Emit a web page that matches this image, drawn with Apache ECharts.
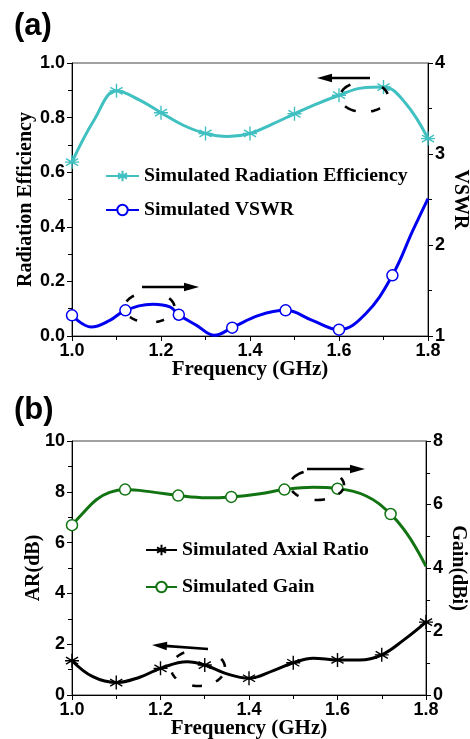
<!DOCTYPE html>
<html><head><meta charset="utf-8">
<script src="https://cdn.jsdelivr.net/npm/echarts@6/dist/echarts.min.js"></script>
<style>html,body{margin:0;padding:0;background:#fff}#c{width:470px;height:739px}</style>
</head><body><div id="c"></div>
<script>
// ---------- Panel (a) ----------
const effFreq  = [1.00,1.05,1.10,1.15,1.20,1.25,1.30,1.35,1.40,1.45,1.50,1.55,1.60,1.65,1.70,1.75,1.80];
const effValue = [0.637,0.792,0.898,0.866,0.818,0.772,0.742,0.731,0.742,0.776,0.814,0.850,0.882,0.908,0.912,0.852,0.723];
const effMarkerFreq = [1.0,1.1,1.2,1.3,1.4,1.5,1.6,1.7,1.8];
const vswrFreq  = [1.00,1.043,1.085,1.12,1.182,1.22,1.24,1.28,1.32,1.36,1.42,1.48,1.54,1.60,1.66,1.72,1.766,1.80];
const vswrValue = [1.227,1.099,1.172,1.282,1.348,1.319,1.234,1.117,1.007,1.092,1.227,1.282,1.172,1.070,1.245,1.667,2.16,2.51];
const vswrMarkerFreq = [1.0,1.12,1.24,1.36,1.48,1.6,1.72];
// ---------- Panel (b) ----------
const arFreq  = [1.00,1.047,1.10,1.153,1.20,1.26,1.30,1.35,1.40,1.455,1.50,1.545,1.60,1.65,1.70,1.75,1.80];
const arValue = [1.35,0.72,0.49,0.70,1.05,1.31,1.18,0.83,0.66,0.96,1.27,1.45,1.38,1.38,1.58,2.17,2.87];
const arMarkerFreq = [1.0,1.1,1.2,1.3,1.4,1.5,1.6,1.7,1.8];
const gainFreq  = [1.00,1.025,1.055,1.085,1.12,1.183,1.24,1.304,1.36,1.425,1.48,1.545,1.60,1.666,1.72,1.756,1.78,1.80];
const gainValue = [5.35,5.73,6.15,6.38,6.47,6.39,6.28,6.21,6.24,6.34,6.47,6.54,6.50,6.26,5.70,5.10,4.57,4.05];
const gainMarkerFreq = [1.0,1.12,1.24,1.36,1.48,1.6,1.72];

const names = {
  eff: 'Simulated Radiation Efficiency', vswr: 'Simulated VSWR',
  ar: 'Simulated Axial Ratio', gain: 'Simulated Gain'
};

const SERIF = "'Liberation Serif','Times New Roman',serif";
const SANS = "'Liberation Sans',Arial,sans-serif";
const STAR = 'path://M0,-10L0,10M-8.66,-5L8.66,5M-8.66,5L8.66,-5M-10,0L10,0';

function build(freqs, vals, markers) {
  return freqs.map((f, i) => {
    const on = markers.some(m => Math.abs(m - f) < 1e-6);
    return on ? [f, vals[i]] : { value: [f, vals[i]], symbol: 'none' };
  });
}

const chart = echarts.init(document.getElementById('c'), null, { renderer: 'canvas' });

function xAx(grid) {
  return {
    type: 'value', gridIndex: grid, min: 1.0, max: 1.8, interval: 0.2,
    name: 'Frequency (GHz)', nameLocation: 'middle', nameGap: 23, nameMoveOverlap: false,
    nameTextStyle: { fontFamily: SERIF, fontWeight: 'bold', fontSize: 21, color: '#000' },
    axisLine: { lineStyle: { color: '#000', width: 1 } },
    axisTick: { inside: false, length: 5, lineStyle: { color: '#000' } },
    minorTick: { show: true, splitNumber: 2, length: 4, lineStyle: { color: '#000' } },
    splitLine: { show: false },
    axisLabel: { fontFamily: SANS, fontWeight: 'bold', fontSize: 18, color: '#000', margin: 6,
      formatter: v => v.toFixed(1) }
  };
}
function yAx(grid, pos, min, max, interval, name, gap, rot, fmt) {
  return {
    type: 'value', gridIndex: grid, position: pos, min, max, interval,
    name, nameLocation: 'middle', nameGap: gap, nameRotate: rot, nameMoveOverlap: false,
    nameTextStyle: { fontFamily: SERIF, fontWeight: 'bold', fontSize: 20, color: '#000' },
    axisLine: { show: true, onZero: false, lineStyle: { color: '#000', width: 1 } },
    axisTick: { show: true, inside: false, length: 5, lineStyle: { color: '#000' } },
    minorTick: { show: true, splitNumber: 2, length: 4, lineStyle: { color: '#000' } },
    splitLine: { show: false },
    axisLabel: { fontFamily: SANS, fontWeight: 'bold', fontSize: 18, color: '#000', margin: 7, formatter: fmt }
  };
}

const CYAN = '#40C0C0', BLUE = '#0000F0', GREEN = '#127312', BLACK = '#000';

function lineSeries(name, xi, yi, data, color, symbol, size, fill, bw) {
  return {
    name, type: 'line', xAxisIndex: xi, yAxisIndex: yi, data,
    smooth: 0.4, symbol, symbolSize: size, showSymbol: true,
    lineStyle: { color, width: 3 },
    itemStyle: { color: fill, borderColor: color, borderWidth: bw },
    emphasis: { disabled: true }, z: 3
  };
}

// dashed, hand-drawn style ellipses: each dash is a short arc of the ellipse (angles in degrees, screen coords)
function dashedEllipse(cx, cy, rx, ry, ranges) {
  return ranges.map(([a0, a1]) => {
    const mid = (a0 + a1) / 2, half = (a1 - a0) / 2 * 0.8;
    const pts = [];
    const n = 10;
    for (let k = 0; k <= n; k++) {
      const t = (mid - half + 2 * half * k / n) * Math.PI / 180;
      pts.push([cx + rx * Math.cos(t), cy + ry * Math.sin(t)]);
    }
    return { type: 'polyline', shape: { points: pts }, style: { stroke: '#000', lineWidth: 2.6, fill: 'none', lineCap: 'butt' }, z: 10, silent: true };
  });
}
function arrow(x1, y1, x2, y2) {
  const dx = x2 - x1, dy = y2 - y1, L = Math.hypot(dx, dy), ux = dx / L, uy = dy / L;
  const hl = 15, hw = 4.3;
  const bx = x2 - ux * hl, by = y2 - uy * hl;
  return [
    { type: 'polyline', shape: { points: [[x1, y1], [bx + ux * 2, by + uy * 2]] }, style: { stroke: '#000', lineWidth: 2.7, fill: 'none' }, z: 10, silent: true },
    { type: 'polygon', shape: { points: [[x2, y2], [bx - uy * hw, by + ux * hw], [bx + uy * hw, by - ux * hw]] }, style: { fill: '#000' }, z: 10, silent: true }
  ];
}

const option = {
  animation: false,
  backgroundColor: '#fff',
  grid: [
    { left: 72, right: 42, top: 63, height: 273, show: true, borderColor: '#444', borderWidth: 1, containLabel: false, outerBoundsMode: 'none' },
    { left: 72, right: 44, top: 441, height: 254, show: true, borderColor: '#444', borderWidth: 1, containLabel: false, outerBoundsMode: 'none' }
  ],
  xAxis: [xAx(0), xAx(1)],
  yAxis: [
    yAx(0, 'left', 0, 1, 0.2, 'Radiation Efficiency', 36, 90, v => v.toFixed(1)),
    yAx(0, 'right', 1, 4, 1, 'VSWR', 22, -90, v => String(v)),
    yAx(1, 'left', 0, 10, 2, 'AR(dB)', 28, 90, v => String(v)),
    yAx(1, 'right', 0, 8, 2, 'Gain(dBi)', 22, -90, v => String(v))
  ],
  legend: [
    { data: [names.eff, names.vswr], orient: 'vertical', left: 105, top: 166, itemGap: 14, padding: 0,
      itemWidth: 33, itemHeight: 13, selectedMode: false,
      textStyle: { fontFamily: SERIF, fontWeight: 'bold', fontSize: 19.8, color: '#000', lineHeight: 20 } },
    { data: [names.ar, names.gain], orient: 'vertical', left: 145, top: 540, itemGap: 17, padding: 0,
      itemWidth: 31, itemHeight: 13, selectedMode: false,
      textStyle: { fontFamily: SERIF, fontWeight: 'bold', fontSize: 19.8, color: '#000', lineHeight: 20 } }
  ],
  series: [
    lineSeries(names.eff, 0, 0, build(effFreq, effValue, effMarkerFreq), CYAN, STAR, 14, 'none', 1.4),
    lineSeries(names.vswr, 0, 1, build(vswrFreq, vswrValue, vswrMarkerFreq), BLUE, 'circle', 11, '#fff', 1.5),
    lineSeries(names.ar, 1, 2, build(arFreq, arValue, arMarkerFreq), BLACK, STAR, 14, 'none', 1.4),
    lineSeries(names.gain, 1, 3, build(gainFreq, gainValue, gainMarkerFreq), GREEN, 'circle', 11, '#fff', 1.5)
  ],
  graphic: [
    { type: 'text', left: 14, top: 11, style: { text: '(a)', fontFamily: SANS, fontWeight: 'bold', fontSize: 31, fill: '#000' } },
    { type: 'text', left: 14, top: 395, style: { text: '(b)', fontFamily: SANS, fontWeight: 'bold', fontSize: 31, fill: '#000' } },
    ...dashedEllipse(149.5, 307.5, 25, 15, [[318, 358], [52, 77], [117, 144], [200, 235]]),
    ...dashedEllipse(364, 97, 24, 15, [[315, 352], [45, 76], [106, 146], [195, 240]]),
    ...dashedEllipse(317, 485, 27, 15, [[328, 365], [372, 400], [70, 98], [130, 160], [198, 245]]),
    ...dashedEllipse(198, 668, 27, 18, [[326, 360], [25, 51], [79, 105], [142, 168], [215, 242]]),
    ...arrow(142, 287, 199, 287),
    ...arrow(370, 78, 317, 78),
    ...arrow(307, 469, 365, 469),
    ...arrow(208, 649, 152, 645)
  ]
};
chart.setOption(option);
</script>
</body></html>
